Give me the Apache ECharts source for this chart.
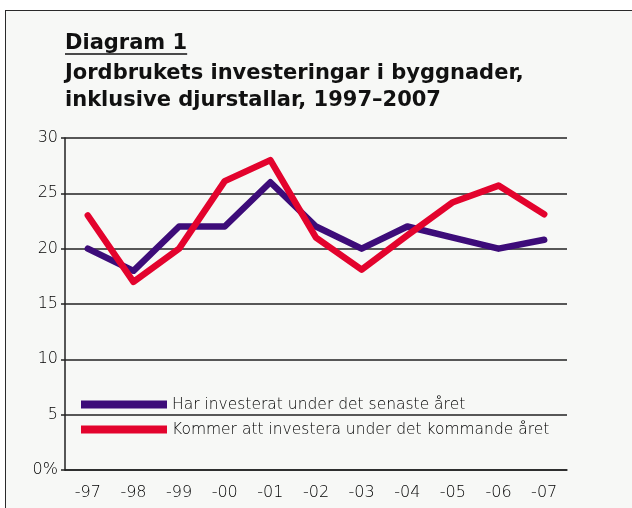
<!DOCTYPE html>
<html>
<head>
<meta charset="utf-8">
<script src="https://cdn.jsdelivr.net/npm/echarts@6/dist/echarts.min.js"></script>
<style>
  html, body { margin: 0; padding: 0; background: #ffffff; }
  #frame { position: absolute; left: 5px; top: 10px; width: 700px; height: 600px;
           background: #f7f8f6; border-left: 1.5px solid #2a2a2a; border-top: 1.5px solid #2a2a2a; }
  #chart { position: absolute; left: 0; top: 0; width: 632px; height: 508px; }
</style>
</head>
<body>
<div id="frame"></div>
<div id="chart"></div>
<script>
const categories = ['-97', '-98', '-99', '-00', '-01', '-02', '-03', '-04', '-05', '-06', '-07'];
const investerat = [20, 18, 22, 22, 26, 22, 20, 22, 21, 20, 20.8];
const kommer = [23, 17, 20, 26.1, 28, 21, 18.1, 21.2, 24.2, 25.7, 23.1];
const seriesNames = ['Har investerat under det senaste året', 'Kommer att investera under det kommande året'];
const yTicks = [0, 5, 10, 15, 20, 25, 30];
const titleLines = ['Diagram 1', 'Jordbrukets investeringar i byggnader,', 'inklusive djurstallar, 1997–2007'];

const chart = echarts.init(document.getElementById('chart'), null, { renderer: 'canvas' });
const ink = '#000000';
const titleFontCss = "bold 21px 'DejaVu Sans', sans-serif";
const bodyFont = "'DejaVu Sans', sans-serif";

const mctx = document.createElement('canvas').getContext('2d');
mctx.font = titleFontCss;
const diagramWidth = mctx.measureText(titleLines[0]).width;

chart.setOption({
  backgroundColor: 'transparent',
  animation: false,
  graphic: [
    { type: 'text', left: 65, top: 33, style: { text: titleLines[0], font: titleFontCss, fill: '#111' } },
    { type: 'line', shape: { x1: 65, y1: 54, x2: 65 + diagramWidth, y2: 54 }, style: { stroke: '#111', lineWidth: 1.5 } },
    { type: 'text', left: 65, top: 63, style: { text: titleLines[1], font: titleFontCss, fill: '#111' } },
    { type: 'text', left: 65, top: 90, style: { text: titleLines[2], font: titleFontCss, fill: '#111' } }
  ],
  grid: { left: 65, right: 65, top: 138, bottom: 38, containLabel: false },
  legend: {
    orient: 'vertical', left: 76, top: 391,
    icon: 'rect', itemWidth: 86, itemHeight: 8, itemGap: 8,
    data: seriesNames,
    textStyle: { fontFamily: bodyFont, fontSize: 15.5, fontWeight: 300, color: ink, lineHeight: 17 }
  },
  xAxis: {
    type: 'category', data: categories, boundaryGap: true,
    axisLine: { show: true, lineStyle: { color: '#222', width: 1.5 } },
    axisTick: { show: false },
    axisLabel: { fontFamily: bodyFont, fontSize: 16, fontWeight: 300, color: ink, margin: 15 }
  },
  yAxis: {
    type: 'value', min: yTicks[0], max: yTicks[yTicks.length - 1], interval: 5,
    axisLine: { show: true, lineStyle: { color: '#222', width: 1.5 } },
    axisTick: { show: true, length: 4, lineStyle: { color: '#222', width: 1.5 } },
    splitLine: { show: true, lineStyle: { color: '#222', width: 1.5 } },
    axisLabel: { fontFamily: bodyFont, fontSize: 16, fontWeight: 300, color: ink, margin: 7,
      formatter: v => v === 0 ? '0%' : String(v) }
  },
  series: [
    { name: seriesNames[0], type: 'line', data: investerat, showSymbol: false,
      itemStyle: { color: '#3d0c79' },
      lineStyle: { color: '#3d0c79', width: 6.5, cap: 'round', join: 'round' } },
    { name: seriesNames[1], type: 'line', data: kommer, showSymbol: false,
      itemStyle: { color: '#e3032d' },
      lineStyle: { color: '#e3032d', width: 6.5, cap: 'round', join: 'round' } }
  ]
});
</script>
</body>
</html>
